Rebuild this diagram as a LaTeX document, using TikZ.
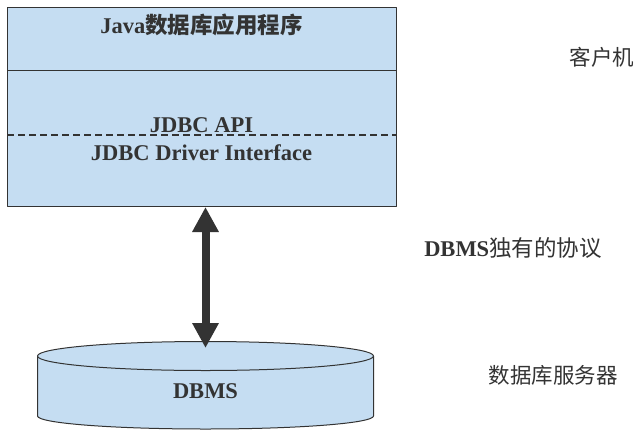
\documentclass[tikz,border=0pt]{standalone}
\usepackage{fontspec}
\setmainfont{Liberation Serif}
\newfontfamily\cjk{Noto Sans CJK SC}
\usetikzlibrary{arrows.meta}
\definecolor{fillblue}{RGB}{197,221,242}
\definecolor{ink}{RGB}{51,51,51}
\begin{document}
\begin{tikzpicture}[x=1pt,y=-1pt,line join=round,
  layer/.style={draw=ink,fill=fillblue,line width=1pt},
  lbl/.style={text=ink,font=\fontsize{22.5}{26}\selectfont\bfseries,inner sep=0pt},
  side/.style={text=ink,font=\fontsize{21.5}{24}\selectfont\cjk,inner sep=0pt},
  sep/.style={draw=ink,line width=0.9pt},
  dsep/.style={draw=ink,line width=1.6pt,dash pattern=on 7pt off 4pt}]
\useasboundingbox (0,0) rectangle (644,436);
% client box
\node[layer,minimum width=389pt,minimum height=199pt,anchor=north west,inner sep=0pt] (client) at (7,7) {};
\coordinate (d1) at (0,70);
\coordinate (d2) at (0,135);
\draw[sep] (client.west |- d1) -- (client.east |- d1);
\draw[dsep] (client.west |- d2) -- (client.east |- d2);
\node[lbl] (app) at (201.5,25) {Java{\cjk 数据库应用程序}};
\node[lbl] (api) at (201.5,125) {JDBC API};
\node[lbl] (drv) at (201.5,153) {JDBC Driver Interface};
% cylinder
\draw[layer] (37.5,356) -- (37.5,416) arc[start angle=180,end angle=0,x radius=168,y radius=13] -- (373.5,356);
\draw[layer] (205.5,356) ellipse[x radius=168,y radius=14.5];
\node[lbl] (dbms) at (205.5,391) {DBMS};
\coordinate (cyltop) at (205.5,348);
% arrow
\draw[ink,line width=8pt,{Triangle[width=25pt,length=25pt]}-{Triangle[width=25pt,length=25pt]}] (client.south -| cyltop) -- (cyltop);
% side labels
\node[side] (clientlbl) at (602,57) {客户机};
\node[lbl] (proto) at (513,248) {DBMS{\cjk\mdseries 独有的协议}};
\node[side] (serverlbl) at (553,375) {数据库服务器};
\end{tikzpicture}
\end{document}
